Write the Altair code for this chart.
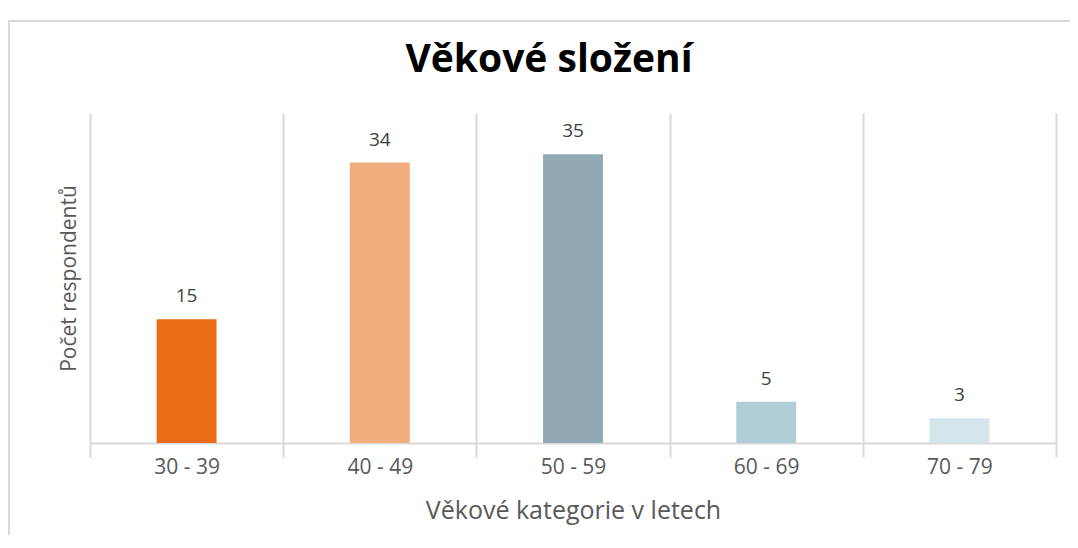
import altair as alt
import pandas as pd

categories = ["30 - 39", "40 - 49", "50 - 59", "60 - 69", "70 - 79"]
counts = [15, 34, 35, 5, 3]
colors = ["#EB6C17", "#F2AD7F", "#90A9B5", "#B0CDD8", "#D4E6EC"]
chart_title = "Věkové složení"

df = pd.DataFrame({"kat": categories, "pocet": counts})

FONT = "Open Sans"

x_enc = alt.X(
    "kat:N",
    sort=categories,
    scale=alt.Scale(paddingInner=0, paddingOuter=0),
    axis=alt.Axis(
        title="Věkové kategorie v letech",
        labelAngle=0,
        tickBand="extent",
        grid=True,
        gridColor="#D9D9D9",
        gridWidth=2,
        ticks=True,
        tickSize=14,
        tickColor="#D9D9D9",
        tickWidth=2,
        domain=True,
        domainColor="#D9D9D9",
        domainWidth=2,
        labelFont=FONT,
        labelFontSize=21,
        labelColor="#595959",
        labelPadding=-1,
        titleFont=FONT,
        titleFontSize=25,
        titleFontWeight="normal",
        titleColor="#595959",
        titlePadding=21,
    ),
)

y_enc = alt.Y(
    "pocet:Q",
    scale=alt.Scale(domain=[0, 40], nice=False),
    axis=alt.Axis(
        title="Počet respondentů",
        labels=False,
        ticks=False,
        domain=False,
        grid=False,
        titleFont=FONT,
        titleFontSize=21,
        titleFontWeight="normal",
        titleColor="#595959",
        titlePadding=11,
    ),
)

bars = alt.Chart(df).mark_bar(width=alt.RelativeBandSize(0.31)).encode(
    x=x_enc,
    y=y_enc,
    color=alt.Color("kat:N", sort=categories,
                    scale=alt.Scale(domain=categories, range=colors),
                    legend=None),
)

labels = alt.Chart(df).mark_text(
    baseline="alphabetic", dy=-17, font=FONT, fontSize=19, color="#404040"
).encode(
    x=alt.X("kat:N", sort=categories),
    y="pocet:Q",
    text="pocet:Q",
)

border = alt.Chart(pd.DataFrame({"b": [0]})).mark_rect(
    fill="transparent", stroke="#D9D9D9", strokeWidth=2
).encode(
    x=alt.value(-81), x2=alt.value(1010),
    y=alt.value(-92), y2=alt.value(460),
)

title_mark = alt.Chart(pd.DataFrame({"t": [chart_title]})).mark_text(
    font="Open Sans", fontSize=39, fontWeight="bold", color="#000000",
    align="center", baseline="alphabetic"
).encode(
    x=alt.value(459), y=alt.value(-41), text="t:N",
)

chart = alt.layer(border, bars, labels, title_mark).properties(
    width=966,
    height=330,
    padding={"left": 82, "top": 105, "right": 14, "bottom": 92},
    autosize=alt.AutoSizeParams(type="none"),
).configure_view(stroke=None)

chart.save("out.html", embed_options={"renderer": "svg", "actions": False})
